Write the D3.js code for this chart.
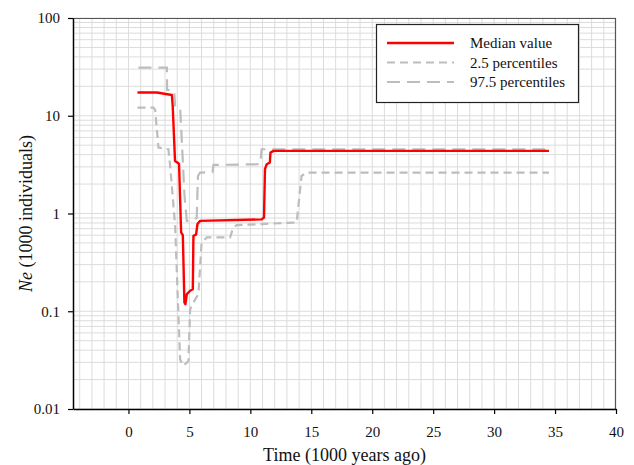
<!DOCTYPE html>
<html><head><meta charset="utf-8">
<script src="https://cdn.jsdelivr.net/npm/d3@7"></script>
<style>body{margin:0;background:#fff;} svg{display:block;}</style>
</head><body>
<svg id="chart" width="634" height="465"></svg>
<script>
// Data (time in 1000 years ago, Ne in 1000 individuals)
const medianT = [0.74, 2.33, 3.56, 3.63, 3.82, 4.10, 4.15, 4.32, 4.46, 4.59, 4.67, 4.79, 5.06, 5.28, 5.33, 5.55, 5.66, 5.88, 10.93, 11.12, 11.2, 11.34, 11.6, 11.65, 11.9, 34.5];
const medianV = [17.3, 17.3, 16.3, 12.6, 3.45, 3.27, 3.2, 0.64, 0.6, 0.123, 0.118, 0.15, 0.162, 0.168, 0.59, 0.61, 0.78, 0.84, 0.87, 0.91, 2.84, 3.19, 3.32, 4.2, 4.37, 4.37];

const p975T = [0.82, 3.15, 3.17, 3.75, 3.83, 4.24, 4.37, 4.6, 4.79, 5.06, 5.6, 5.7, 5.88, 6.9, 6.97, 10.8, 10.93, 34.5];
const p975V = [31, 31, 18.4, 17.9, 12.6, 12.1, 5.75, 1.5, 0.84, 0.84, 0.9, 2.42, 2.62, 2.65, 3.14, 3.19, 4.54, 4.54];

const p25T = [0.74, 2.05, 2.19, 2.46, 3.28, 3.42, 3.83, 4.10, 4.24, 4.51, 4.92, 5.06, 5.33, 5.74, 6.0, 6.43, 8.34, 8.6, 8.88, 13.8, 14.2, 14.6, 34.5];
const p25V = [12.1, 12.1, 11.5, 4.73, 4.54, 3.07, 0.75, 0.09, 0.032, 0.0277, 0.031, 0.105, 0.123, 0.15, 0.505, 0.57, 0.57, 0.72, 0.76, 0.81, 2.42, 2.62, 2.62];

const xTicks = [0, 5, 10, 15, 20, 25, 30, 35, 40];
const yTicks = [0.01, 0.1, 1, 10, 100];
const yTickLabels = ["0.01", "0.1", "1", "10", "100"];
const legendLabels = ["Median value", "2.5 percentiles", "97.5 percentiles"];

const svg = d3.select("#chart");
const L = 73, R = 616, T = 18, B = 409;
const x = d3.scaleLinear().domain([-4.55, 40]).range([L, R]);
const y = d3.scaleLog().domain([0.01, 100]).range([B, T]);

// grid
const g = svg.append("g");
const vgrid = d3.range(-4, 40, 1);
g.selectAll("line.vg").data(vgrid).enter().append("line")
  .attr("x1", d => x(d)).attr("x2", d => x(d)).attr("y1", T).attr("y2", B)
  .attr("stroke", "#dcdcdc").attr("stroke-width", 1);
const hgrid = [];
[0.01, 0.1, 1, 10].forEach(dec => { for (let k = 1; k <= 9; k++) hgrid.push(dec * k); });
hgrid.push(100);
g.selectAll("line.hg").data(hgrid).enter().append("line")
  .attr("x1", L).attr("x2", R).attr("y1", d => y(d)).attr("y2", d => y(d))
  .attr("stroke", "#dcdcdc").attr("stroke-width", 1);

// frame top/right
svg.append("line").attr("x1", L).attr("x2", R).attr("y1", T + 0.5).attr("y2", T + 0.5).attr("stroke", "#555").attr("stroke-width", 1.2);
svg.append("line").attr("x1", R - 0.5).attr("x2", R - 0.5).attr("y1", T).attr("y2", B).attr("stroke", "#555").attr("stroke-width", 1.2);

// axes
const xAxis = d3.axisBottom(x).tickValues(xTicks).tickSize(5).tickSizeOuter(0).tickFormat(d3.format("d"));
const xg = svg.append("g").attr("transform", `translate(0,${B})`).call(xAxis);
const yAxis = d3.axisLeft(y).tickValues(yTicks).tickSize(5).tickSizeOuter(0).tickFormat((d, i) => yTickLabels[i]);
const yg = svg.append("g").attr("transform", `translate(${L},0)`).call(yAxis);
[xg, yg].forEach(a => {
  a.select(".domain").attr("stroke", "#000").attr("stroke-width", 1.5);
  a.selectAll(".tick line").attr("stroke", "#000").attr("stroke-width", 1.2);
  a.selectAll(".tick text").attr("font-family", "Liberation Serif, serif").attr("font-size", 15).attr("fill", "#111");
});
xg.selectAll(".tick text").attr("dy", "1.3em");
yg.selectAll(".tick text").attr("dx", "-5");

// lines
const line = d3.line().x(d => x(d[0])).y(d => y(d[1]));
const zip = (a, b) => a.map((t, i) => [t, b[i]]);
svg.append("path").datum(zip(p25T, p25V)).attr("d", line)
  .attr("fill", "none").attr("stroke", "#bdbdbd").attr("stroke-width", 2.2).attr("stroke-dasharray", "8,5");
svg.append("path").datum(zip(p975T, p975V)).attr("d", line)
  .attr("fill", "none").attr("stroke", "#bdbdbd").attr("stroke-width", 2.2).attr("stroke-dasharray", "13,7");
svg.append("path").datum(zip(medianT, medianV)).attr("d", line)
  .attr("fill", "none").attr("stroke", "#ff0000").attr("stroke-width", 2.4).attr("stroke-linejoin", "round");

// legend
const lg = svg.append("g");
lg.append("rect").attr("x", 376.5).attr("y", 24.5).attr("width", 202).attr("height", 78)
  .attr("fill", "#fff").attr("stroke", "#222").attr("stroke-width", 1.2);
const styles = [
  {stroke: "#ff0000", dash: null, w: 2.4},
  {stroke: "#bdbdbd", dash: "8,5", w: 2.2},
  {stroke: "#bdbdbd", dash: "13,7", w: 2.2}
];
legendLabels.forEach((lab, i) => {
  const yy = 43 + i * 19.5;
  lg.append("line").attr("x1", 387).attr("x2", 454).attr("y1", yy).attr("y2", yy)
    .attr("stroke", styles[i].stroke).attr("stroke-width", styles[i].w)
    .attr("stroke-dasharray", styles[i].dash);
  lg.append("text").attr("x", 470).attr("y", yy + 5).text(lab)
    .attr("font-family", "Liberation Serif, serif").attr("font-size", 15).attr("fill", "#111");
});

// axis titles
svg.append("text").attr("x", (L + R) / 2).attr("y", 461).attr("text-anchor", "middle")
  .attr("font-family", "Liberation Serif, serif").attr("font-size", 18).attr("fill", "#111")
  .text("Time (1000 years ago)");
const yt = svg.append("text").attr("transform", `translate(32,${(T + B) / 2}) rotate(-90)`)
  .attr("text-anchor", "middle").attr("font-family", "Liberation Serif, serif").attr("font-size", 18).attr("fill", "#111");
yt.append("tspan").attr("font-style", "italic").text("Ne");
yt.append("tspan").text(" (1000 individuals)");
</script>
</body></html>
